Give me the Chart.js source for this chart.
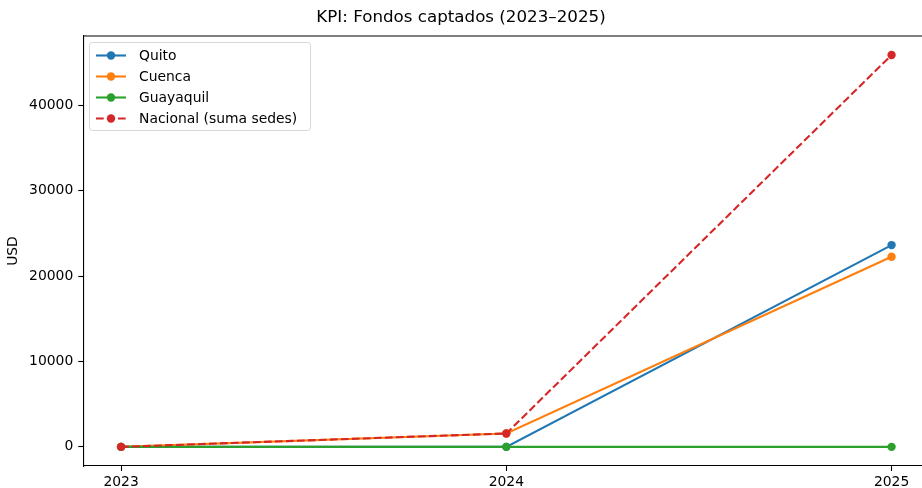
<!DOCTYPE html>
<html>
<head>
<meta charset="utf-8">
<script src="https://cdn.jsdelivr.net/npm/chart.js@4.4.1/dist/chart.umd.min.js"></script>
<style>
  html, body { margin: 0; padding: 0; background: #fff; overflow: hidden; }
  #wrap { width: 922px; height: 488px; position: relative; }
</style>
</head>
<body>
<div id="wrap"><canvas id="c"></canvas></div>
<script>
const years = [2023, 2024, 2025];
const quito = [0, 0, 23620];
const cuenca = [0, 1570, 22250];
const guayaquil = [0, 0, 0];
const nacional = [0, 1570, 45870];
const yTicks = [0, 10000, 20000, 30000, 40000];
const seriesNames = ['Quito', 'Cuenca', 'Guayaquil', 'Nacional (suma sedes)'];
const seriesColors = ['#1f77b4', '#ff7f0e', '#2ca02c', '#d62728'];

const FONT = "'DejaVu Sans', sans-serif";

function pts(vals) { return years.map((y, i) => ({ x: y, y: vals[i] })); }

const allSeries = [quito, cuenca, guayaquil, nacional];
const datasets = allSeries.map((vals, i) => ({
  label: seriesNames[i],
  data: pts(vals),
  borderColor: seriesColors[i],
  backgroundColor: seriesColors[i],
  borderWidth: 2.1,
  pointRadius: 4.2,
  pointHoverRadius: 4.2,
  pointBorderWidth: 0,
  borderDash: i === 3 ? [7.7, 3.3] : [],
  tension: 0,
  order: 3 - i,
  clip: false
}));

const framePlugin = {
  id: 'frame',
  afterDatasetsDraw(chart) {
    const { ctx, chartArea: a } = chart;
    ctx.save();
    ctx.strokeStyle = '#000';
    ctx.lineWidth = 1.1;
    ctx.beginPath();
    ctx.moveTo(a.left, a.top);
    ctx.lineTo(a.right, a.top);
    ctx.stroke();
    ctx.restore();
  }
};

const legendPlugin = {
  id: 'mplLegend',
  afterDraw(chart) {
    const { ctx } = chart;
    const x0 = 89.5, y0 = 42.5, w = 221, h = 88;
    ctx.save();
    ctx.fillStyle = 'rgba(255,255,255,0.8)';
    ctx.strokeStyle = '#d6d6d6';
    ctx.lineWidth = 1;
    const r = 3;
    ctx.beginPath();
    ctx.moveTo(x0 + r, y0);
    ctx.lineTo(x0 + w - r, y0);
    ctx.arcTo(x0 + w, y0, x0 + w, y0 + r, r);
    ctx.lineTo(x0 + w, y0 + h - r);
    ctx.arcTo(x0 + w, y0 + h, x0 + w - r, y0 + h, r);
    ctx.lineTo(x0 + r, y0 + h);
    ctx.arcTo(x0, y0 + h, x0, y0 + h - r, r);
    ctx.lineTo(x0, y0 + r);
    ctx.arcTo(x0, y0, x0 + r, y0, r);
    ctx.closePath();
    ctx.fill();
    ctx.stroke();
    chart.data.datasets.forEach((ds, i) => {
      const cy = 55.5 + i * 21;
      ctx.strokeStyle = ds.borderColor;
      ctx.lineWidth = 2.1;
      ctx.setLineDash(ds.borderDash || []);
      ctx.beginPath();
      ctx.moveTo(96, cy);
      ctx.lineTo(126, cy);
      ctx.stroke();
      ctx.setLineDash([]);
      ctx.fillStyle = ds.backgroundColor;
      ctx.beginPath();
      ctx.arc(111, cy, 4.2, 0, Math.PI * 2);
      ctx.fill();
      ctx.fillStyle = '#000';
      ctx.font = '13.9px ' + FONT;
      ctx.textBaseline = 'middle';
      ctx.textAlign = 'left';
      ctx.fillText(ds.label, 139, cy + 0.5);
    });
    ctx.restore();
  }
};

new Chart(document.getElementById('c'), {
  type: 'line',
  data: { datasets },
  options: {
    responsive: true,
    maintainAspectRatio: false,
    animation: false,
    layout: { padding: { left: 0, right: 0, top: 0, bottom: 0 } },
    plugins: {
      legend: { display: false },
      tooltip: { enabled: false },
      title: {
        display: true,
        text: 'KPI: Fondos captados (2023–2025)',
        color: '#000',
        font: { family: FONT, size: 16.7, weight: 'normal', lineHeight: 1.2 },
        padding: { top: 8, bottom: 8 }
      }
    },
    scales: {
      x: {
        type: 'linear',
        min: 2022.902,
        max: 2025.079,
        afterBuildTicks(scale) { scale.ticks = years.map(v => ({ value: v })); },
        afterFit(scale) { scale.height = 22; scale.paddingLeft = 0; scale.paddingRight = 0; },
        ticks: {
          color: '#000',
          font: { family: FONT, size: 13.9 },
          padding: 3,
          maxRotation: 0,
          autoSkip: false,
          callback: v => String(v)
        },
        grid: { drawOnChartArea: false, drawTicks: true, tickLength: 5, color: '#000', tickWidth: 1.1 },
        border: { display: true, color: '#000', width: 1.1 }
      },
      y: {
        type: 'linear',
        min: -2240,
        max: 48090,
        afterBuildTicks(scale) { scale.ticks = yTicks.map(v => ({ value: v })); },
        afterFit(scale) { scale.width = 83.3; scale.paddingTop = 0; scale.paddingBottom = 0; },
        ticks: {
          color: '#000',
          font: { family: FONT, size: 13.9 },
          padding: 5,
          autoSkip: false,
          callback: v => String(v)
        },
        title: {
          display: true,
          text: 'USD',
          color: '#000',
          font: { family: FONT, size: 13.9 },
          padding: { top: 5, bottom: 0 }
        },
        grid: { drawOnChartArea: false, drawTicks: true, tickLength: 5, color: '#000', tickWidth: 1.1 },
        border: { display: true, color: '#000', width: 1.1 }
      }
    }
  },
  plugins: [framePlugin, legendPlugin, {
    id: 'fixRight',
    beforeInit(chart) {},
    afterLayout(chart) {
      const a = chart.chartArea;
      if (a.right < chart.width) {
        const xs = chart.scales.x;
        const delta = chart.width - a.right;
        a.right = chart.width;
        a.width = a.right - a.left;
        xs.right = chart.width;
        xs.width = xs.right - xs.left;
        xs.configure();
        void delta;
      }
    }
  }]
});
</script>
</body>
</html>
